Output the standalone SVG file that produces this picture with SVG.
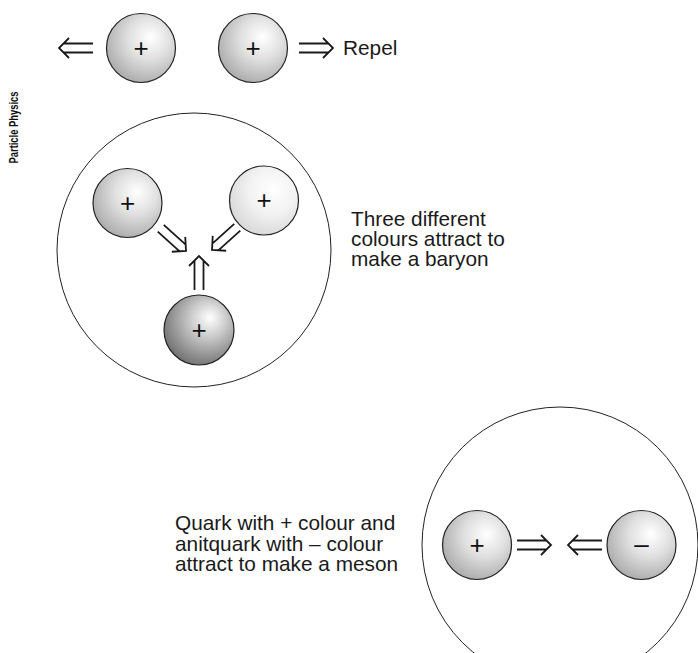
<svg xmlns="http://www.w3.org/2000/svg" width="698" height="653" viewBox="0 0 698 653">
<style>
.big{fill:none;stroke:#222;stroke-width:1}
.ball{stroke:#222;stroke-width:1.2}
.mid{fill:url(#gMid)}
.light{fill:url(#gLight)}
.dark{fill:url(#gDark)}
.sign{font-family:"Liberation Sans",Arial,sans-serif;font-size:26px;fill:#111;text-anchor:middle}
.lbl{font-family:"Liberation Sans",Arial,sans-serif;font-size:20.8px;fill:#1a1a1a}
.side{font-family:"Liberation Sans",Arial,sans-serif;font-size:13px;font-weight:bold;fill:#111;text-anchor:middle}
.arr{fill:none;stroke:#1a1a1a;stroke-width:1.8;stroke-linejoin:miter}
</style>
<defs>
<radialGradient id="gMid" cx="0.6" cy="0.38" r="0.68" fx="0.64" fy="0.34">
<stop offset="0" stop-color="#ffffff"/>
<stop offset="0.45" stop-color="#e0e0e0"/>
<stop offset="1" stop-color="#a8a8a8"/>
</radialGradient>
<radialGradient id="gLight" cx="0.6" cy="0.38" r="0.68" fx="0.64" fy="0.34">
<stop offset="0" stop-color="#ffffff"/>
<stop offset="0.5" stop-color="#f2f2f2"/>
<stop offset="1" stop-color="#d6d6d6"/>
</radialGradient>
<radialGradient id="gDark" cx="0.6" cy="0.38" r="0.68" fx="0.66" fy="0.32">
<stop offset="0" stop-color="#ffffff"/>
<stop offset="0.35" stop-color="#cfcfcf"/>
<stop offset="1" stop-color="#6c6c6c"/>
</radialGradient>
<path id="dbl" d="M-34,-4.5 H-4.5 M-34,4.5 H-4.5 M-10,-10 L0,0 L-10,10"/>
</defs>
<rect width="698" height="653" fill="#fff"/>

<text class="side" transform="translate(18,127.5) rotate(-90)" textLength="72" lengthAdjust="spacingAndGlyphs">Particle Physics</text>

<g id="repel">
<g id="repel-left"><circle class="ball mid" cx="141" cy="48" r="34.5"/><text class="sign" x="141" y="56.5">+</text></g>
<g id="repel-right"><circle class="ball mid" cx="253" cy="48" r="34.5"/><text class="sign" x="253" y="56.5">+</text></g>
<text class="lbl" x="343" y="55">Repel</text>
</g>

<g id="baryon">
<circle class="big" cx="194" cy="250" r="137"/>
<g id="baryon-q1"><circle class="ball mid" cx="127.5" cy="203" r="34.5"/><text class="sign" x="127.5" y="211.5">+</text></g>
<g id="baryon-q2"><circle class="ball light" cx="264" cy="200.5" r="34.5"/><text class="sign" x="264" y="209">+</text></g>
<g id="baryon-q3"><circle class="ball dark" cx="199" cy="330" r="35"/><text class="sign" x="199" y="338.5">+</text></g>
<text class="lbl" x="351" y="226">Three different</text>
<text class="lbl" x="351" y="246">colours attract to</text>
<text class="lbl" x="351" y="266">make a baryon</text>
</g>

<g id="meson">
<circle class="big" cx="560" cy="545" r="138"/>
<g id="meson-quark"><circle class="ball mid" cx="477" cy="545" r="34.5"/><text class="sign" x="477" y="553.5">+</text></g>
<g id="meson-antiquark"><circle class="ball mid" cx="641.5" cy="545" r="34.5"/><text class="sign" x="641.5" y="552.5">–</text></g>
<text class="lbl" x="175" y="530">Quark with + colour and</text>
<text class="lbl" x="175" y="550.5">anitquark with – colour</text>
<text class="lbl" x="175" y="571">attract to make a meson</text>
</g>

<g id="connectors" class="arr">
<use href="#dbl" transform="translate(59,48) rotate(180)"/>
<use href="#dbl" transform="translate(333,48)"/>
<use href="#dbl" transform="translate(186,251) rotate(42)"/>
<use href="#dbl" transform="translate(212,250) rotate(138)"/>
<use href="#dbl" transform="translate(199,256) rotate(-90)"/>
<use href="#dbl" transform="translate(551,545)"/>
<use href="#dbl" transform="translate(568,545) rotate(180)"/>
</g>
</svg>
